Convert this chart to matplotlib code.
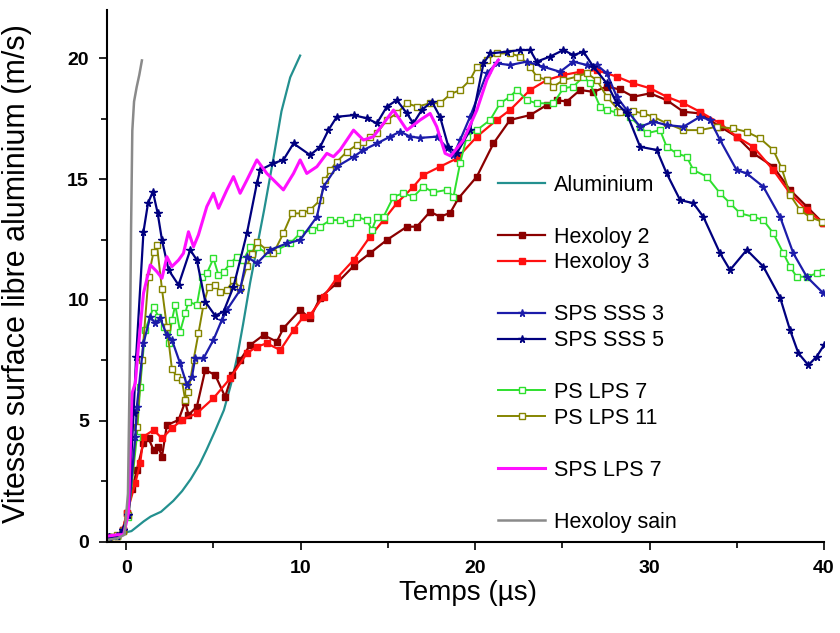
import numpy as np
import matplotlib
matplotlib.use("Agg")
import matplotlib.pyplot as plt
from matplotlib.lines import Line2D
from matplotlib.ticker import MultipleLocator

plt.rcParams["font.family"] = ["Liberation Sans", "DejaVu Sans"]

# ---- data (t in us, v in m/s) ----
alu_t = [-1.0, -0.4, 0.0, 0.3, 0.6, 1.0, 1.4, 2.0, 2.7, 3.2, 3.7, 4.2, 4.6, 5.1, 5.6,
         6.0, 6.35, 6.7, 7.1, 7.5, 7.9, 8.45, 8.9, 9.4, 9.97]
alu_v = [0.1, 0.2, 0.4, 0.45, 0.62, 0.85, 1.05, 1.25, 1.7, 2.1, 2.6, 3.2, 3.8, 4.6, 5.45,
         6.5, 7.6, 9.0, 10.7, 12.2, 13.7, 15.9, 17.8, 19.2, 20.1]

sain_t = [-1.0, -0.5, -0.1, 0.1, 0.2, 0.28, 0.35, 0.45, 0.6, 0.75, 0.9]
sain_v = [0.1, 0.15, 0.3, 2.0, 7.0, 13.0, 17.0, 18.2, 18.8, 19.3, 19.9]

hex2_t = [-1.0, -0.5, -0.2, 0.04, 0.35, 0.61, 0.99, 1.28, 1.57, 1.85, 2.05, 2.33, 3.0, 3.38,
          3.57, 4.05, 4.53, 5.1, 5.67, 6.06, 6.53, 7.11, 7.87, 8.63, 9.01, 9.97, 10.54, 11.12,
          12.07, 13.03, 14.0, 14.94, 16.09, 16.66, 17.42, 17.99, 18.57, 19.04, 20.1, 21.05,
          22.0, 23.15, 24.11, 24.68, 25.25, 26.02, 26.78, 27.55, 28.3, 29.07, 30.03, 30.98,
          31.94, 32.89, 34.04, 34.99, 35.95, 37.09, 38.05, 39.01, 39.96]
hex2_v = [0.2, 0.25, 0.5, 1.19, 2.2, 2.98, 4.08, 4.28, 3.8, 3.94, 3.52, 4.83, 5.04, 5.8,
          5.25, 5.59, 7.11, 6.9, 6.0, 6.9, 7.52, 8.14, 8.55, 8.28, 8.83, 9.59, 9.24, 10.1,
          10.69, 11.4, 11.95, 12.48, 13.03, 13.03, 13.65, 13.44, 13.6, 14.2, 15.1, 16.47,
          17.44, 17.64, 18.06, 18.26, 18.2, 18.68, 18.6, 18.82, 18.7, 18.4, 18.54, 18.26,
          17.78, 17.71, 17.16, 16.75, 16.06, 15.51, 14.55, 13.86, 13.17]

hex3_t = [-1.0, -0.5, -0.2, 0.04, 0.52, 0.8, 0.99, 1.57, 2.05, 2.62, 3.19, 4.05, 5.0, 5.96,
          6.92, 7.49, 8.06, 8.83, 9.59, 10.16, 10.54, 11.31, 12.07, 13.03, 13.98, 14.75,
          15.51, 16.46, 17.04, 17.99, 18.95, 20.1, 21.24, 22.0, 23.15, 24.11, 25.06, 26.02,
          26.97, 28.12, 29.07, 30.03, 30.98, 31.94, 32.89, 34.04, 34.99, 35.95, 37.09, 38.05,
          39.01, 39.96]
hex3_v = [0.2, 0.25, 0.5, 1.19, 2.43, 3.25, 4.35, 4.63, 4.28, 4.7, 5.04, 5.32, 5.94, 6.76,
          7.8, 8.07, 8.21, 7.93, 8.76, 9.31, 9.38, 10.14, 10.9, 11.65, 12.62, 13.3,
          14.0, 14.68, 15.17, 15.51, 15.85, 16.75, 17.44, 17.85, 18.68, 19.09, 19.3, 19.43,
          19.5, 19.23, 18.95, 18.75, 18.4, 18.13, 17.78, 17.3, 16.75, 16.33, 15.37, 14.41,
          13.72, 13.17]

sss3_t = [-1.0, -0.5, -0.2, 0.13, 0.52, 0.61, 0.99, 1.38, 1.66, 1.95, 2.33, 2.62, 3.09, 3.48,
          3.77, 3.95, 4.43, 5.0, 5.48, 5.77, 6.53, 6.92, 7.49, 8.25, 9.21, 9.97, 10.93, 11.31,
          12.07, 13.03, 13.6, 14.37, 15.13, 15.7, 16.28, 16.85, 17.8, 18.38, 18.76, 19.14,
          19.71, 20.67, 21.24, 22.0, 22.96, 23.91, 24.87, 25.63, 26.4, 26.97, 27.55, 28.12,
          28.69, 29.46, 30.22, 30.98, 31.94, 32.89, 33.47, 34.04, 34.99, 35.57, 36.52, 37.48,
          38.24, 39.01, 39.96]
sss3_v = [0.2, 0.25, 0.5, 1.12, 4.35, 5.59, 8.21, 9.31, 9.04, 9.24, 8.55, 8.35, 7.38, 6.49,
          6.83, 7.59, 7.59, 8.35, 9.17, 9.59, 10.41, 11.79, 11.51, 12.07, 12.34, 12.48, 13.44,
          14.68, 15.51, 15.92, 16.2, 16.47, 16.75, 16.96, 16.75, 16.7, 16.75, 16.3, 15.99,
          16.61, 17.57, 19.37, 19.78, 19.71, 19.85, 19.64, 19.43, 19.85, 19.71, 19.71, 19.37,
          18.4, 17.85, 17.16, 17.37, 17.23, 17.16, 17.57, 17.44, 16.61, 15.37, 15.23, 14.68,
          13.44, 11.93, 10.96, 10.28]

sss5_t = [-1.0, -0.5, -0.2, 0.13, 0.42, 0.57, 0.99, 1.25, 1.53, 1.8, 2.05, 2.43, 3.0, 3.67,
          4.05, 4.53, 5.1, 5.58, 6.15, 6.92, 7.49, 7.68, 8.44, 9.01, 9.59, 10.54, 11.12, 11.59,
          12.07, 13.03, 13.79, 14.37, 14.94, 15.51, 16.09, 16.46, 16.94, 17.52, 17.99, 18.47,
          18.95, 19.71, 20.48, 20.86, 21.82, 22.58, 23.15, 23.53, 24.3, 25.06, 25.63, 26.21,
          26.78, 27.55, 28.12, 28.69, 29.46, 30.41, 30.98, 31.75, 32.51, 33.08, 34.04, 34.61,
          35.57, 36.52, 37.48, 38.05, 38.53, 39.1, 39.58, 40.0]
sss5_v = [0.2, 0.25, 0.5, 1.12, 5.32, 7.66, 12.82, 14.0, 14.48, 13.6, 12.48, 11.24, 10.62,
          12.07, 11.65, 9.93, 9.35, 9.52, 10.55, 12.76, 14.82, 15.37, 15.65, 15.79, 16.47,
          15.99, 16.33, 17.02, 17.57, 17.64, 17.51, 17.3, 17.99, 18.26, 17.71, 17.3, 17.85,
          18.2, 17.57, 16.33, 16.06, 17.02, 19.78, 20.19, 20.26, 20.33, 20.33, 19.85, 20.06,
          20.33, 20.12, 20.26, 19.64, 18.95, 18.13, 17.71, 16.33, 16.2, 15.23, 14.13, 14.0,
          13.44, 11.93, 11.24, 12.07, 11.38, 10.1, 8.76, 7.8, 7.31, 7.66, 8.14]

ps7_t = [-1.0, -0.5, -0.2, 0.13, 0.61, 0.8, 1.09, 1.57, 1.85, 2.14, 2.43, 2.62, 2.81, 3.09,
         3.38, 3.57, 4.05, 4.34, 4.62, 5.0, 5.29, 5.58, 5.96, 6.34, 6.72, 7.11, 7.49, 8.06,
         8.63, 9.4, 9.97, 10.64, 11.12, 11.69, 12.26, 12.84, 13.22, 13.79, 14.08, 14.37,
         14.75, 15.32, 15.89, 16.46, 17.04, 17.61, 18.38, 18.76, 19.14, 19.52, 20.1, 20.86,
         21.43, 22.0, 22.39, 22.96, 23.53, 24.49, 25.06, 25.63, 26.21, 26.59, 27.16, 27.55,
         28.12, 28.88, 29.46, 29.84, 30.6, 30.98, 31.56, 32.13, 32.51, 33.28, 34.04, 34.61,
         35.19, 35.95, 36.52, 37.09, 37.67, 38.05, 38.43, 39.01, 39.58, 39.96]
ps7_v = [0.2, 0.25, 0.45, 1.05, 4.35, 6.42, 8.76, 9.72, 9.31, 8.9, 8.21, 9.17, 9.79, 8.69,
         9.45, 9.93, 9.79, 10.96, 11.1, 11.72, 11.03, 11.17, 11.51, 11.79, 11.65, 12.2, 12.2,
         11.93, 12.07, 12.34, 12.76, 12.89, 13.03, 13.3, 13.3, 13.17, 13.44, 13.3, 12.89,
         13.44, 13.44, 14.27, 14.41, 14.27, 14.68, 14.45, 14.55, 14.27, 15.65, 16.75, 17.02,
         17.44, 18.13, 18.4, 18.68, 18.26, 18.13, 18.13, 18.75, 18.82, 19.23, 18.95, 17.99,
         17.85, 17.75, 17.57, 17.16, 16.89, 17.02, 16.33, 16.06, 15.92, 15.37, 15.1, 14.41,
         14.0, 13.58, 13.44, 13.3, 12.76, 11.93, 11.38, 10.96, 10.96, 11.1, 11.17]

ps11_t = [-1.0, -0.5, -0.2, 0.13, 0.61, 0.9, 1.28, 1.57, 1.76, 2.05, 2.33, 2.62, 2.9, 3.19,
          3.38, 3.57, 3.86, 4.14, 4.43, 4.72, 5.1, 5.39, 5.77, 6.15, 6.53, 6.92, 7.2, 7.49,
          8.06, 8.44, 9.01, 9.5, 10.07, 10.54, 11.12, 11.4, 11.69, 12.07, 12.65, 13.22, 13.6,
          13.98, 14.37, 14.94, 15.51, 16.09, 16.66, 17.42, 17.99, 18.57, 19.14, 19.71, 20.1,
          20.67, 21.24, 22.0, 22.58, 23.15, 23.53, 24.11, 24.49, 25.06, 25.83, 26.4, 26.97,
          27.55, 28.31, 29.07, 29.65, 30.22, 30.98, 31.94, 32.89, 33.85, 34.8, 35.57, 36.33,
          37.09, 37.57, 38.05, 38.62, 39.2, 39.87]
ps11_v = [0.2, 0.3, 0.45, 1.1, 4.77, 7.52, 10.96, 12.0, 12.27, 10.45, 8.9, 7.15, 6.83, 6.69,
          5.87, 6.2, 7.52, 8.62, 9.8, 10.55, 10.62, 10.34, 10.41, 10.83, 10.48, 11.4, 11.9,
          12.4, 12.07, 11.93, 12.76, 13.58, 13.58, 13.72, 14.13, 14.96, 15.37, 15.71, 16.13,
          16.41, 16.54, 16.75, 16.89, 17.44, 17.71, 18.13, 17.99, 18.13, 18.13, 18.5, 18.68,
          19.09, 19.64, 19.92, 20.19, 20.19, 20.06, 19.64, 19.23, 19.09, 18.82, 19.09, 19.23,
          19.37, 19.09, 18.4, 17.78, 17.8, 17.71, 17.57, 17.3, 17.02, 17.02, 17.16, 17.09,
          16.95, 16.68, 16.2, 15.45, 14.35, 13.72, 13.42, 13.24]

lps7_t = [-1.0, -0.5, -0.15, 0.13, 0.33, 0.52, 0.7, 0.99, 1.38, 1.76, 2.05, 2.33, 2.62, 3.0,
          3.28, 3.57, 3.86, 4.14, 4.62, 5.0, 5.29, 5.77, 6.15, 6.53, 6.92, 7.49, 8.06, 8.44,
          9.01, 9.59, 9.97, 10.35, 10.93, 11.5, 11.88, 12.26, 13.03, 13.6, 14.17, 14.75,
          15.32, 15.7, 16.09, 16.85, 17.42, 17.8, 18.28, 18.6, 19.33, 20.1, 20.67, 21.05,
          21.34]
lps7_v = [0.25, 0.3, 0.3, 1.19, 6.14, 6.56, 8.07, 10.28, 11.45, 11.17, 10.9, 11.79, 11.38,
          11.65, 11.93, 12.82, 12.2, 12.69, 13.86, 14.41, 13.79, 14.55, 15.1, 14.41, 14.96,
          15.79, 15.23, 14.96, 14.55, 15.23, 15.79, 15.23, 15.51, 16.06, 15.92, 16.2, 17.02,
          16.61, 16.75, 17.3, 17.85, 17.44, 17.02, 17.44, 17.71, 17.16, 16.06, 15.95, 16.61,
          17.85, 19.09, 19.64, 19.92]

fig = plt.figure(figsize=(8.4, 6.33), dpi=100)
ax = fig.add_axes([0.1274, 0.1438, 0.8536, 0.841])

ax.plot(alu_t, alu_v, "-", color="#23908f", lw=1.6)
ax.plot(hex2_t, hex2_v, "-s", color="#8b0000", lw=1.6, ms=4)
ax.plot(hex3_t, hex3_v, "-s", color="#ff1010", lw=1.6, ms=4)
ax.plot(ps7_t, ps7_v, "-s", color="#2ee02e", lw=1.4, ms=4.5, mfc="white", mew=1.0)
ax.plot(ps11_t, ps11_v, "-s", color="#858500", lw=1.4, ms=4.5, mfc="white", mew=1.0)
ax.plot(sss3_t, sss3_v, "-*", color="#1c1caa", lw=1.6, ms=5.5)
ax.plot(sss5_t, sss5_v, "-*", color="#00007f", lw=1.6, ms=5.5)
ax.plot(lps7_t, lps7_v, "-", color="#ff10ff", lw=2.2)
ax.plot(sain_t, sain_v, "-", color="#8a8a8a", lw=1.8)

ax.set_xlim(-1.1, 40)
ax.set_ylim(0, 22)
ax.xaxis.set_major_locator(MultipleLocator(10))
ax.xaxis.set_minor_locator(MultipleLocator(5))
ax.yaxis.set_major_locator(MultipleLocator(5))
ax.yaxis.set_minor_locator(MultipleLocator(2.5))
ax.spines["top"].set_visible(False)
ax.spines["right"].set_visible(False)
for s in ("left", "bottom"):
    ax.spines[s].set_linewidth(1.5)
ax.tick_params(which="major", direction="out", length=6, width=1.2, pad=7)
ax.tick_params(which="minor", direction="out", length=4, width=1.2)
for lab in ax.get_xticklabels() + ax.get_yticklabels():
    lab.set_fontweight("bold")
    lab.set_fontsize(14)

ax.set_ylabel("Vitesse surface libre aluminium (m/s)", fontsize=22)
ax.yaxis.set_label_coords(-0.104, 0.505)
ax.set_xlabel("Temps (µs)", fontsize=20)
ax.xaxis.set_label_coords(0.503, -0.071)

blank = Line2D([], [], color="none")
handles = [
    Line2D([], [], color="#23908f", lw=1.6), blank,
    Line2D([], [], color="#8b0000", lw=1.6, marker="s", ms=4),
    Line2D([], [], color="#ff1010", lw=1.6, marker="s", ms=4), blank,
    Line2D([], [], color="#1c1caa", lw=1.6, marker="*", ms=5.5),
    Line2D([], [], color="#00007f", lw=1.6, marker="*", ms=5.5), blank,
    Line2D([], [], color="#2ee02e", lw=1.4, marker="s", ms=4.5, mfc="white"),
    Line2D([], [], color="#858500", lw=1.4, marker="s", ms=4.5, mfc="white"), blank,
    Line2D([], [], color="#ff10ff", lw=2.2), blank,
    Line2D([], [], color="#8a8a8a", lw=1.8),
]
labels = ["Aluminium", " ", "Hexoloy 2", "Hexoloy 3", " ", "SPS SSS 3", "SPS SSS 5", " ",
          "PS LPS 7", "PS LPS 11", " ", "SPS LPS 7", " ", "Hexoloy sain"]
ax.legend(handles, labels, loc="upper left", bbox_to_anchor=(0.593, 0.724),
          bbox_transform=fig.transFigure, frameon=False, fontsize=15.5,
          handlelength=2.2, handletextpad=0.4, labelspacing=0.228, borderpad=0,
          borderaxespad=0)

fig.savefig("out.png", dpi=100)
